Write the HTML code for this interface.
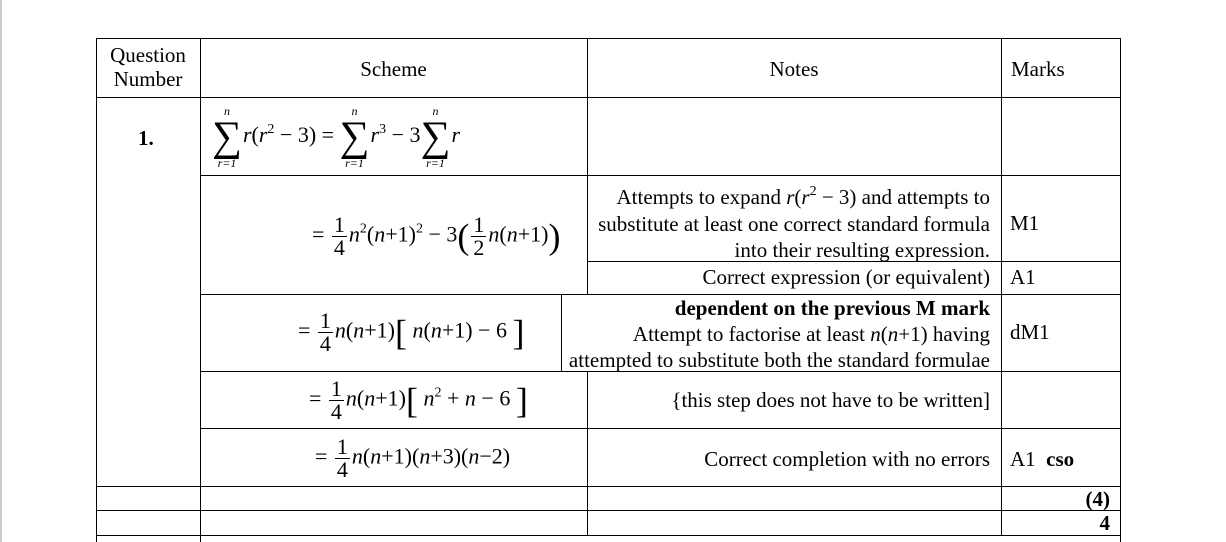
<!DOCTYPE html>
<html><head><meta charset="utf-8"><style>
html,body{margin:0;padding:0;background:#fff;}
body{width:1226px;height:542px;position:relative;overflow:hidden;font-family:"Liberation Serif",serif;color:#000;}
.h{position:absolute;height:1px;background:#000;}
.v{position:absolute;width:1px;background:#000;}
.t{position:absolute;font-size:21px;line-height:24px;white-space:nowrap;}
.r{text-align:right;}
i{font-style:italic;}
.m{font-size:22px;}
.fr{display:inline-block;vertical-align:middle;text-align:center;line-height:22px;margin:0 2px;}
.fr .n{border-bottom:1.5px solid #000;padding:0 2px;}
.sum{display:inline-block;vertical-align:middle;text-align:center;line-height:14px;margin-right:1px;}
.sum .s{font-size:42px;line-height:38px;height:38px;}
.sum .sm{font-size:12px;font-style:italic;}
sup{font-size:14px;vertical-align:9px;line-height:0;}
.br{font-size:36px;vertical-align:middle;line-height:20px;font-weight:100;}
</style></head><body>
<div class="v" style="left:0;top:0;height:542px;background:#ccc;width:2px"></div>
<div class="h" style="left:96px;top:38px;width:1025px"></div>
<div class="h" style="left:96px;top:97px;width:1025px"></div>
<div class="h" style="left:200px;top:175px;width:921px"></div>
<div class="h" style="left:587px;top:261px;width:534px"></div>
<div class="h" style="left:200px;top:294px;width:921px"></div>
<div class="h" style="left:200px;top:371px;width:921px"></div>
<div class="h" style="left:200px;top:428px;width:921px"></div>
<div class="h" style="left:96px;top:486px;width:1025px"></div>
<div class="h" style="left:96px;top:510px;width:1025px"></div>
<div class="h" style="left:96px;top:535px;width:1025px"></div>
<div class="v" style="left:96px;top:38px;height:504px"></div>
<div class="v" style="left:200px;top:38px;height:504px"></div>
<div class="v" style="left:587px;top:38px;height:256px"></div>
<div class="v" style="left:561px;top:294px;height:77px"></div>
<div class="v" style="left:587px;top:371px;height:165px"></div>
<div class="v" style="left:1001px;top:38px;height:498px"></div>
<div class="v" style="left:1120px;top:38px;height:504px"></div>
<div class="t" style="left:96px;width:104px;top:43px;text-align:center">Question<br>Number</div>
<div class="t" style="left:200px;width:387px;top:57px;text-align:center">Scheme</div>
<div class="t" style="left:587px;width:414px;top:57px;text-align:center">Notes</div>
<div class="t" style="left:1011px;top:57px">Marks</div>
<div class="t" style="left:138px;top:126px;font-weight:bold">1.</div>
<div class="t m" style="left:212px;top:104px">
<span class="sum"><div class="sm">n</div><div class="s">∑</div><div class="sm">r=1</div></span><i>r</i>(<i>r</i><sup>2</sup> − 3) = <span class="sum"><div class="sm">n</div><div class="s">∑</div><div class="sm">r=1</div></span><i>r</i><sup>3</sup> − 3<span class="sum"><div class="sm">n</div><div class="s">∑</div><div class="sm">r=1</div></span><i>r</i>
</div>
<div class="t m" style="left:312px;top:214px">= <span class="fr"><div class="n">1</div><div>4</div></span><i>n</i><sup>2</sup>(<i>n</i>+1)<sup>2</sup> − 3<span class="br">(</span><span class="fr"><div class="n">1</div><div>2</div></span><i>n</i>(<i>n</i>+1)<span class="br">)</span></div>
<div class="t r" style="right:236px;top:184px;line-height:26.5px">Attempts to expand <i>r</i>(<i>r</i><sup>2</sup> − 3) and attempts to<br>substitute at least one correct standard formula<br>into their resulting expression.</div>
<div class="t" style="left:1010px;top:211px">M1</div>
<div class="t r" style="right:236px;top:265px">Correct expression (or equivalent)</div>
<div class="t" style="left:1010px;top:265px">A1</div>
<div class="t m" style="left:298px;top:310px">= <span class="fr"><div class="n">1</div><div>4</div></span><i>n</i>(<i>n</i>+1)<span class="br">[</span> <i>n</i>(<i>n</i>+1) − 6 <span class="br">]</span></div>
<div class="t r" style="right:236px;top:295px;line-height:26px"><b>dependent on the previous M mark</b><br>Attempt to factorise at least <i>n</i>(<i>n</i>+1) having<br>attempted to substitute both the standard formulae</div>
<div class="t" style="left:1010px;top:320px">dM1</div>
<div class="t m" style="left:309px;top:378px">= <span class="fr"><div class="n">1</div><div>4</div></span><i>n</i>(<i>n</i>+1)<span class="br">[</span> <i>n</i><sup>2</sup> + <i>n</i> − 6 <span class="br">]</span></div>
<div class="t r" style="right:236px;top:388px">{this step does not have to be written]</div>
<div class="t m" style="left:315px;top:436px">= <span class="fr"><div class="n">1</div><div>4</div></span><i>n</i>(<i>n</i>+1)(<i>n</i>+3)(<i>n</i>−2)</div>
<div class="t r" style="right:236px;top:447px">Correct completion with no errors</div>
<div class="t" style="left:1010px;top:447px">A1 &nbsp;<b>cso</b></div>
<div class="t r" style="right:116px;top:487px;font-weight:bold">(4)</div>
<div class="t r" style="right:116px;top:511px;font-weight:bold">4</div>
</body></html>
